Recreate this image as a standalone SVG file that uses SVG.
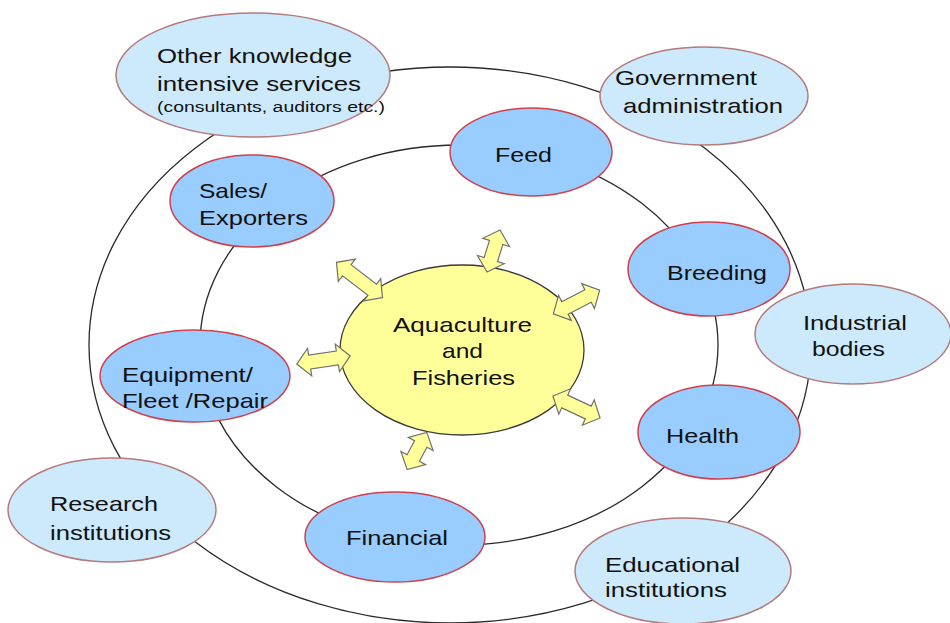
<svg xmlns="http://www.w3.org/2000/svg" width="950" height="623" viewBox="0 0 950 623">
<style>
.ring{fill:none;stroke:#2a2a2a;stroke-width:1.3}
.inner{fill:#99ccff;stroke:#d0404c;stroke-width:1.5}
.outer{fill:#cde9fc;stroke:#b57a7a;stroke-width:1.5}
.core{fill:#ffff99;stroke:#3a3a3a;stroke-width:1.3}
.arrow{fill:#ffff99;stroke:#707070;stroke-width:1.2;stroke-linejoin:miter}
text{font-family:"Liberation Sans",Arial,sans-serif;font-size:21px;fill:#111}
.small{font-size:14px}
</style>
<rect width="950" height="623" fill="#ffffff"/>
<g id="connectors">
<ellipse class="ring" cx="450" cy="345" rx="361" ry="278"/>
<ellipse class="ring" cx="459" cy="345" rx="259" ry="200"/>
</g>
<g id="other-knowledge">
<ellipse class="outer" cx="253" cy="75" rx="137" ry="62"/>
<text x="157" y="63" textLength="195" lengthAdjust="spacingAndGlyphs">Other knowledge</text>
<text x="157" y="91" textLength="204" lengthAdjust="spacingAndGlyphs">intensive services</text>
<text class="small" x="157" y="112" textLength="228" lengthAdjust="spacingAndGlyphs">(consultants, auditors etc.)</text>
</g>
<g id="government">
<ellipse class="outer" cx="704" cy="96" rx="104" ry="49"/>
<text x="615" y="85" textLength="142" lengthAdjust="spacingAndGlyphs">Government</text>
<text x="623" y="113" textLength="160" lengthAdjust="spacingAndGlyphs">administration</text>
</g>
<g id="industrial">
<ellipse class="outer" cx="853" cy="334" rx="98" ry="50"/>
<text x="803" y="330" textLength="104" lengthAdjust="spacingAndGlyphs">Industrial</text>
<text x="812" y="356" textLength="73" lengthAdjust="spacingAndGlyphs">bodies</text>
</g>
<g id="research">
<ellipse class="outer" cx="112" cy="510" rx="104" ry="52"/>
<text x="50" y="511" textLength="108" lengthAdjust="spacingAndGlyphs">Research</text>
<text x="50" y="540" textLength="121" lengthAdjust="spacingAndGlyphs">institutions</text>
</g>
<g id="educational">
<ellipse class="outer" cx="683" cy="571" rx="108" ry="53"/>
<text x="605" y="572" textLength="135" lengthAdjust="spacingAndGlyphs">Educational</text>
<text x="605" y="597" textLength="122" lengthAdjust="spacingAndGlyphs">institutions</text>
</g>
<g id="feed">
<ellipse class="inner" cx="531" cy="152" rx="81" ry="44"/>
<text x="495" y="162" textLength="57" lengthAdjust="spacingAndGlyphs">Feed</text>
</g>
<g id="sales">
<ellipse class="inner" cx="252" cy="201" rx="82" ry="46"/>
<text x="199" y="198" textLength="68" lengthAdjust="spacingAndGlyphs">Sales/</text>
<text x="199" y="225" textLength="109" lengthAdjust="spacingAndGlyphs">Exporters</text>
</g>
<g id="breeding">
<ellipse class="inner" cx="709" cy="269" rx="81" ry="47"/>
<text x="667" y="280" textLength="100" lengthAdjust="spacingAndGlyphs">Breeding</text>
</g>
<g id="equipment">
<ellipse class="inner" cx="195" cy="376" rx="95" ry="46"/>
<text x="122" y="382" textLength="131" lengthAdjust="spacingAndGlyphs">Equipment/</text>
<text x="122" y="408" textLength="146" lengthAdjust="spacingAndGlyphs">Fleet /Repair</text>
</g>
<g id="health">
<ellipse class="inner" cx="719" cy="432" rx="81" ry="47"/>
<text x="666" y="443" textLength="73" lengthAdjust="spacingAndGlyphs">Health</text>
</g>
<g id="financial">
<ellipse class="inner" cx="395" cy="537" rx="90" ry="45"/>
<text x="346" y="545" textLength="102" lengthAdjust="spacingAndGlyphs">Financial</text>
</g>
<g id="aquaculture">
<ellipse class="core" cx="462" cy="350" rx="122" ry="85"/>
<text x="393" y="332" textLength="139" lengthAdjust="spacingAndGlyphs">Aquaculture</text>
<text x="442" y="358" textLength="41" lengthAdjust="spacingAndGlyphs">and</text>
<text x="412" y="385" textLength="103" lengthAdjust="spacingAndGlyphs">Fisheries</text>
</g>
<g id="arrows">
<path class="arrow" transform="translate(493.5 251) rotate(-72.8)" d="M-22 0 L-9 -14 L-9 -7 L9 -7 L9 -14 L22 0 L9 14 L9 7 L-9 7 L-9 14 Z"/>
<path class="arrow" transform="translate(359.5 280) rotate(-142.5)" d="M-29 0 L-16 -14 L-16 -7 L16 -7 L16 -14 L29 0 L16 14 L16 7 L-16 7 L-16 14 Z"/>
<path class="arrow" transform="translate(323.5 360) rotate(171.4)" d="M-27 0 L-14 -14 L-14 -7 L14 -7 L14 -14 L27 0 L14 14 L14 7 L-14 7 L-14 14 Z"/>
<path class="arrow" transform="translate(576.5 302) rotate(-27)" d="M-26 0 L-13 -14 L-13 -7 L13 -7 L13 -14 L26 0 L13 14 L13 7 L-13 7 L-13 14 Z"/>
<path class="arrow" transform="translate(576.5 407) rotate(25)" d="M-26 0 L-13 -14 L-13 -7 L13 -7 L13 -14 L26 0 L13 14 L13 7 L-13 7 L-13 14 Z"/>
<path class="arrow" transform="translate(417 451) rotate(117.8)" d="M-21 0 L-8 -14 L-8 -7 L8 -7 L8 -14 L21 0 L8 14 L8 7 L-8 7 L-8 14 Z"/>
</g>
</svg>
